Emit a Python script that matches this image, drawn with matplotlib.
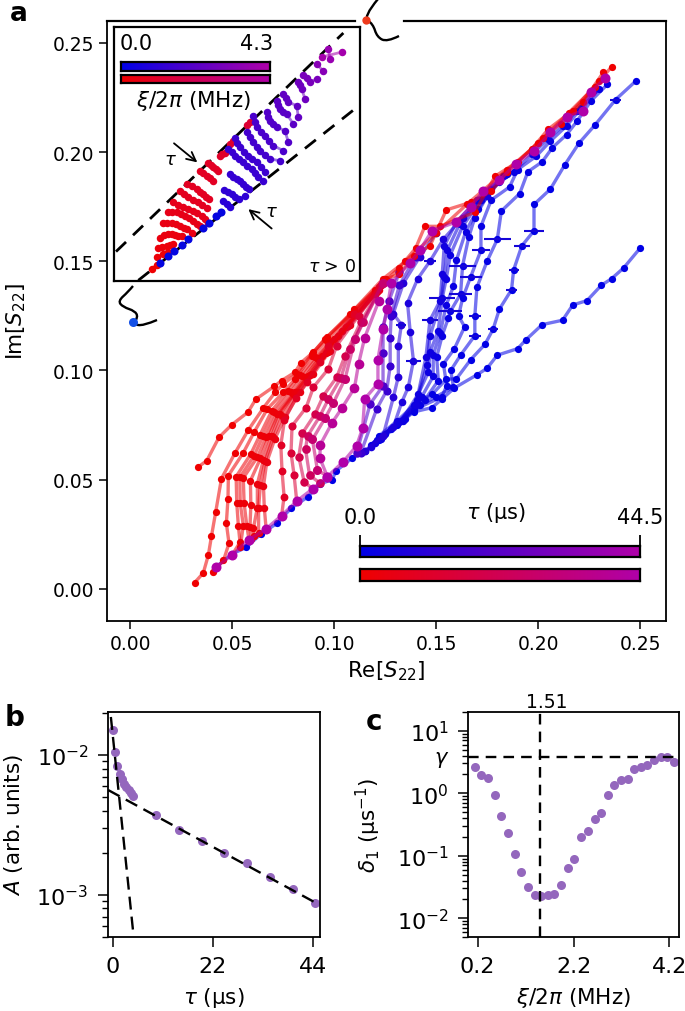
import numpy as np
import matplotlib
matplotlib.use('Agg')
import matplotlib.pyplot as plt
from matplotlib.colors import LinearSegmentedColormap
from matplotlib.lines import Line2D
from matplotlib.patches import PathPatch
from matplotlib.path import Path
from matplotlib.ticker import LogLocator, NullFormatter

W, H = 685, 1012

# panel a, curves of fixed tau, (Re, Im) in units of 1e-3
red_0 = [(33.5,55.9),(37.6,58.7),(43.6,69.4),(49.8,75.1),(57.8,80.9),(61.6,86.8),(70.8,92.8),(74.3,95.4),(80.9,99.2),(83.7,103.5),(89.9,108.4),(96.4,115.2),(110,127),(125.5,142),(132,144),(139,152.5),(147,157),(155,173.5),(167,177),(177,182),(185,191),(197,201.5),(205,210.5),(217,219),(230,232.5),(236,239)]
red_1 = [(31.7,2.9),(35.9,7.3),(38.4,15.6),(39.9,24.1),(42,35.3),(44.8,50.5),(51.5,62.3),(58,72.8),(65.4,82.9),(71.1,90),(75.2,93.9),(81.7,98.4),(89.1,107.6),(95.6,114.5),(108,126),(120,137),(125.5,141),(132,147),(140,156),(144.5,166),(152,166),(169,172.5),(179,189),(190,195.5),(202.5,206.5),(211,213),(222,223),(232,236.5)]
red_2 = [(40.8,7.8),(45.8,13),(48.5,20.9),(47.2,30.1),(48,41.2),(48.2,51.9),(55.5,62.3),(60.8,71.7),(67.3,82.4),(75.2,90),(80.9,96.2),(89.1,106.8),(96.4,113.7),(110,128),(124,142),(135,150),(150,163),(165,176),(185,192),(200,204),(215,218),(228,230)]
red_3 = [(50.1,15.6),(53.9,21.4),(53.1,28.7),(52.3,39.4),(52,51.4),(59.2,61.8),(63.7,70.5),(69.5,81.6),(77.6,90.8),(83.3,97.7),(90.7,106.1),(98,113),(110,126),(120,136)]
red_3b = [(54,19),(55.5,29),(54,39.4),(53.8,51),(60.8,61),(65.2,70),(70.7,80.8),(78.8,90),(84.5,97.3),(91.5,105.7),(100,114.5),(120,135.5)]
red_4 = [(58.3,22.6),(57.2,29),(55.9,39.4),(55.5,50.8),(62.4,60.3),(66.7,69.5),(71.9,80.1),(80.1,89.3),(85.8,96.9),(92.3,105.3),(102,116),(120,135)]
red_4b = [(59.5,23),(58.8,28.5),(59.2,38.3),(59,49.5),(63.9,59.7),(68,69.8),(72.7,80.1),(80.5,89.6),(87,97.5),(94,106.5),(104,118),(120,135)]
red_5 = [(60.8,24.1),(60.5,27.9),(62.4,37.2),(62.4,48.1),(65.4,59.1),(69.5,70.2),(73.5,80.1),(81,90),(88,98),(96,108),(106,120),(120,135)]
red_5b = [(63,25.5),(63,37.2),(63.9,47.6),(66.2,58.5),(70.2,69.5),(74.7,79.3),(82,90),(89,98.2),(97,108.5),(107,120.5),(121,136)]
red_6 = [(66.7,27.5),(65.8,37.1),(65.4,47),(67,58),(71,68.7),(76,78.6),(83.3,90),(89.9,98.4),(98,109),(108,121),(122,137)]
red_7 = [(74.3,33.6),(75.5,42.3),(74.5,53.9),(73.9,65.8),(75.7,77.4),(81.2,87.3),(86.6,94.6),(93.1,103.8),(97.2,111.4),(110,126),(122,138)]
red_8 = [(81.7,40.2),(80.4,52.1),(78.9,62.3),(79.4,74.6),(86.3,83),(89.9,92.4),(97.2,100.7),(101.3,111.4),(112,125),(123,139)]
red_9 = [(89.5,45.8),(85.3,49.1),(82.7,60.6),(84.5,71.3),(90.7,80.1),(94.8,88.5),(101.3,96.9),(105.4,106.8),(113,122),(124,140)]
red_9b = [(93,48.5),(88,52),(86,64),(87,70),(93,79),(97.2,86.8),(103.3,96.5),(107.8,110),(114,122),(124,140)]
red_10 = [(96.7,51.4),(91.8,54.6),(89.4,68.4),(95.6,78.2),(99.7,85.2),(105.4,96.2),(110.3,114.5),(124,140)]
red_11 = [(96.7,51.4),(93,60),(93.3,66.1),(99,76),(104,83),(110,92),(112,103),(115,115),(122,132)]
final = [(42,9.9),(50.1,15.6),(58.3,22.6),(66.7,27.5),(74.3,33.6),(81.7,40.2),(89.5,45.8),(96.7,51.4),(104.6,58.3),(111.1,65.6),(114,73.7),(115,87),(121.5,94),(121.5,105),(124,119),(126,128),(128,140),(137,149),(142,155),(148,164),(160,168),(167,175),(173,182),(181,187),(189,194.5),(198,200.5),(206,209),(214,216),(222,219),(226,227.5),(233,234)]
red_tau = [0, 0.5, 1, 1.5, 1.75, 2, 2.5, 3, 3.5, 4.5, 9.5, 14.5, 19.5, 24.5, 29.5, 39.5, 44.5]

blue_0 = [(42,10),(50,16),(57,19),(64,25),(72,30),(79,37),(87,42),(93,48),(99,50),(101,54),(109,60),(115,63),(122,68),(131,75),(139,81),(148,83),(153,87),(159,92),(170,98),(175,101),(180,107),(190,110),(194,114),(202,121),(212,123),(217,130),(224,132),(231,139),(236,142),(242,147),(250,156)]
blue_1 = [(122,70),(131,77),(139,84),(148,89),(155,96),(160,96.2),(167,105),(174,112),(178,119),(181,128),(187,137),(188,146),(192,157),(198,164),(198,176),(206,183),(213,194),(220,204),(228,212.5),(238,224),(248,232.6)]
blue_2 = [(118,66),(131,76),(142,84),(150,88),(158.5,92.4),(157.2,100),(162,107),(169,116),(169,125),(170,138),(175,150),(180,160),(182,173),(191,181),(195,191),(202,195.5),(207,202),(214,208),(219,214),(226,223.5),(234,231)]
blue_3 = [(128,73),(139,82),(152.8,87.8),(155.2,93.1),(153.6,103),(159,110),(164,120),(161,125),(163,133),(167,143),(172,155),(172,166),(177,178),(186,184),(190,192),(199,198),(206,205),(214,212),(221,220),(230,229)]
blue_4 = [(125,71),(135,78),(144.6,86.7),(151.1,95.4),(150.3,106.1),(153,116),(156,124),(157,127),(162,135),(163,148),(166,161),(169,170),(177,183),(188,191),(197,199),(205,206),(212,212),(219,219),(227,228)]
blue_4b = [(123,68.5),(134,77),(143,88),(148.6,97.3),(148.6,107.2),(152,117),(155,130),(158.5,138.5),(160,150.5),(164.5,163.5),(170.5,174),(181,186.5)]
blue_5 = [(122,69),(133,77),(141.3,89.3),(146.2,99.2),(147,108.4),(151,118),(153,133),(155,142),(157,153),(163,166),(172,178),(185,190)]
blue_5b = [(121,68),(132,76.5),(140.6,86.5),(145.6,102.6),(147,115.7),(152.5,132.5),(154,143),(155.5,155),(161.5,167),(171,178),(184,189.5)]
blue_6 = [(120,67),(131,76),(140,84),(145,106),(147,123),(152,132),(153,144),(154,157),(160,168),(170,178),(183,189)]
blue_7 = [(118,65),(129,74),(133.2,85.5),(136.4,92.4),(138.9,104.5),(137.3,117.8),(136,131),(141,142),(147,150),(153.5,160),(163,170),(175,180)]
blue_8 = [(115,63),(124,70),(129.1,87.8),(131.5,97.2),(131.5,111.4),(133,121),(129,126),(134,140),(142,152),(150,163)]
blue_9 = [(113,62),(120.9,82.4),(125.8,90.8),(127.5,102),(127.5,114.9),(128,125),(132,139),(140,152)]
blue_10 = [(111,62),(117.7,84.7),(124,93),(124,108),(124,120),(127,132),(132,145)]
blue_tau = [0, 0.5, 1, 1.5, 2, 2.5, 3, 3.5, 4.5, 6.5, 9.5, 14.5, 19.5]

# horizontal error bars on the blue points
err_x = [238, 198, 192, 188, 187, 178, 169, 169, 180, 172, 163, 167, 162, 153, 157, 147, 138.9, 147, 133]
err_y = [224, 164, 157, 146, 137, 119, 125, 116, 160, 155, 148, 143, 135, 133, 127, 123, 104.5, 150, 121]
err_w = [2.6, 4.7, 4, 2.5, 2.5, 2.5, 3, 3, 6.5, 4.6, 6.5, 5.5, 5.7, 6.5, 5.9, 3.9, 3.5, 3, 2.5]

# inset, curves of fixed xi, arbitrary units (no ticks on this axes)
inset_rows_red = [
    [(113,37),(128,48)],
    [(128,73),(148,80),(163,87)],
    [(133,100),(145,103),(158,105),(168,108),(178,110)],
    [(138,130),(150,137),(163,140),(173,140),(183,137),(193,136),(203,135)],
    [(148,173),(160,175),(173,175),(186,171),(198,165),(209,160),(220,155),(233,145)],
    [(163,205),(175,206),(188,205),(200,200),(213,195),(225,188),(238,180),(248,172),(258,165)],
    [(178,235),(193,228),(208,220),(223,215),(238,210),(250,203),(263,195),(273,185),(283,175)],
    [(198,270),(210,260),(223,250),(238,242),(253,235),(265,226),(278,217)],
    [(220,290),(234,283),(248,275),(258,267),(268,260),(277,252),(286,245)],
    [(258,330),(268,322),(278,315),(288,307),(298,300)],
    [(283,353),(290,346),(298,340),(305,334),(313,328)],
    [(318,375),(325,379),(333,383)],
    [(348,410),(358,418)],
    [(398,467),(408,475)],
]
inset_rows_blue = [
    [(328,238),(338,229),(348,220)],
    [(330,273),(341,267),(353,260),(364,252),(376,245),(393,255)],
    [(348,320),(358,312),(368,305),(378,298),(388,290),(396,282),(405,275)],
    [(343,395),(353,385),(363,375),(375,365),(388,355),(400,345),(413,335),(423,322),(433,310),(448,300)],
    [(363,427),(370,413),(378,400),(390,387),(403,375),(415,365),(428,355),(440,340),(453,325)],
    [(398,445),(408,430),(418,415),(428,402),(438,390),(453,377),(468,365),(498,360)],
    [(416,495),(422,477),(428,460),(440,447),(453,435),(465,420),(478,405),(508,390)],
    [(458,505),(463,492),(468,480),(478,470),(488,460),(513,450),(523,415)],
    [(488,540),(493,527),(498,515),(508,507),(518,500),(538,470)],
    [(508,560),(515,547),(523,535),(548,525),(553,490)],
    [(553,595),(558,585),(563,575),(573,545)],
    [(568,617),(578,606),(588,595),(608,605)],
    [(608,650),(628,627)],
    [(643,695),(648,663)],
    [(623,670),(683,685)],
]
inset_diag = [(138,55),(163,75),(180,90),(203,107),(223,125),(266,160),(285,173),(305,193),(320,205)]
inset_xi_red = [0.1, 0.2, 0.3, 0.4, 0.5, 0.6, 0.7, 0.8, 0.85, 0.9, 0.95, 1.05, 1.15, 1.3]
inset_xi_blue = [1.0, 1.15, 1.3, 1.4, 1.5, 1.65, 1.8, 2.0, 2.2, 2.4, 2.7, 2.95, 3.3, 3.7, 4.0]

# panel b
tau_b = [0, 0.5, 1, 1.5, 2, 2.5, 3, 3.5, 4, 4.5, 9.5, 14.5, 19.5, 24.5, 29.5, 34.5, 39.5, 44.5]
amp_b = [0.0152, 0.01045, 0.0083, 0.0073, 0.00674, 0.00621, 0.00588, 0.00562, 0.00535, 0.00512, 0.00373, 0.00293, 0.00242, 0.002, 0.00168, 0.00135, 0.0011, 0.00088]
fit_slow_t = [-1, 44.5]
fit_slow_a = [0.00562, 0.00088]
fit_fast_t = [-0.4, 4.5]
fit_fast_a = [0.0187, 0.00054]

# panel c
xi_c = [0.14, 0.28, 0.42, 0.56, 0.69, 0.83, 0.97, 1.11, 1.25, 1.39, 1.52, 1.66, 1.80, 1.94, 2.08, 2.22, 2.36, 2.50, 2.64, 2.77, 2.91, 3.05, 3.19, 3.33, 3.47, 3.61, 3.74, 3.88, 4.02, 4.16, 4.30]
delta_c = [2.64, 1.99, 1.76, 0.95, 0.43, 0.229, 0.106, 0.0545, 0.0313, 0.0236, 0.0228, 0.0239, 0.0245, 0.0346, 0.0647, 0.089, 0.2, 0.25, 0.388, 0.49, 0.95, 1.36, 1.63, 1.70, 2.45, 2.64, 2.84, 3.41, 3.77, 3.77, 3.13]
gamma = 3.84
xi_opt = 1.51

blue_map = LinearSegmentedColormap.from_list('bm', ['#0000e6', '#b000a8'])
red_map = LinearSegmentedColormap.from_list('rm', ['#f00000', '#b000a8'])


def box(l, t, r, b):
    # pixel box of the reference -> axes rectangle
    return [l / W, 1 - b / H, (r - l) / W, (b - t) / H]


def squiggle(pts):
    # smooth line through pixel positions, drawn on the figure
    p = [(x / W, 1 - y / H) for x, y in pts]
    verts, codes = [p[0]], [Path.MOVETO]
    for i in range(1, len(p) - 1):
        end = p[i + 1] if i == len(p) - 2 else ((p[i][0] + p[i + 1][0]) / 2, (p[i][1] + p[i + 1][1]) / 2)
        verts += [p[i], end]
        codes += [Path.CURVE3, Path.CURVE3]
    fig.add_artist(PathPatch(Path(verts, codes), fill=False, lw=1.7, ec='k', transform=fig.transFigure))


def draw_curve(ax, pts, color, ms):
    arr = np.array(pts) / 1000
    ax.plot(arr[:, 0], arr[:, 1], '-', color=color, alpha=0.55, lw=2.4)
    ax.plot(arr[:, 0], arr[:, 1], 'o', color=color, ms=ms, mew=0)


def grad_bar(rect, cmap):
    bar = fig.add_axes(rect)
    bar.imshow(np.linspace(0, 1, 256)[None, :], cmap=cmap, aspect='auto', extent=(0, 1, 0, 1))
    bar.set_xticks([])
    bar.set_yticks([])
    for s in bar.spines.values():
        s.set_linewidth(1.6)
    return bar


plt.rcParams['font.size'] = 13.5
plt.rcParams['mathtext.fontset'] = 'dejavusans'
plt.rcParams['axes.linewidth'] = 1.3
fig = plt.figure(figsize=(W / 100, H / 100), dpi=100)

# ---- panel a ----
ax = fig.add_axes(box(107, 22, 666, 622))
blue_curves = [blue_0, blue_1, blue_2, blue_3, blue_4, blue_4b, blue_5, blue_5b, blue_6, blue_7, blue_8, blue_9, blue_10]
red_curves = [red_0, red_1, red_2, red_3, red_3b, red_4, red_4b, red_5, red_5b, red_6, red_7, red_8, red_9, red_9b, red_10, red_11, final]
for pts, t in zip(blue_curves, blue_tau):
    draw_curve(ax, pts, blue_map(t / 44.5), 5.2 + 2 * t / 44.5)
ax.errorbar(np.array(err_x) / 1000, np.array(err_y) / 1000, xerr=np.array(err_w) / 1000, fmt='none', ecolor='#1505d8', elinewidth=1.5)
for pts, t in zip(red_curves, red_tau):
    draw_curve(ax, pts, red_map(t / 44.5), 5.2 + 2 * t / 44.5)

ax.set_xlim(-0.0113, 0.2627)
ax.set_ylim(-0.0147, 0.26)
ax.set_xticks([0, 0.05, 0.1, 0.15, 0.2, 0.25])
ax.set_yticks([0, 0.05, 0.1, 0.15, 0.2, 0.25])
ax.xaxis.set_major_formatter('{x:.2f}')
ax.yaxis.set_major_formatter('{x:.2f}')
ax.tick_params(axis='both', length=5.5, width=1.1)
ax.set_xlabel('Re[$S_{22}$]', fontsize=15.5, labelpad=4)
ax.set_ylabel('Im[$S_{22}$]', fontsize=15.5, labelpad=18)
ax.spines['top'].set_visible(False)
ax.plot([0, 0.444], [1, 1], 'k', lw=1.6, transform=ax.transAxes, clip_on=False)
ax.plot([0.531, 1], [1, 1], 'k', lw=1.6, transform=ax.transAxes, clip_on=False)

# tau colour bars
bar = grad_bar(box(360, 547, 640, 558), blue_map)
bar.set_xticks([0, 1], ['0.0', '44.5'], fontsize=15)
bar.xaxis.tick_top()
bar.tick_params(axis='x', length=8, width=1.3, pad=6)
grad_bar(box(360, 570, 640, 582), red_map)
fig.text(496 / W, 1 - 513 / H, r'$\tau$ (µs)', ha='center', va='center', fontsize=15)

# ---- inset ----
ins = fig.add_axes(box(114, 28, 360, 282))
ins.set_xlim(0, 738)
ins.set_ylim(0, 760)
ins.set_xticks([])
ins.set_yticks([])
for s in ins.spines.values():
    s.set_linewidth(1.6)
ins.plot([6, 688], [88, 742], color='k', lw=2, dashes=(5, 3.5))
ins.plot([73, 738], [2, 527], color='k', lw=2, dashes=(5, 3.5))
for row, xi in zip(inset_rows_red, inset_xi_red):
    arr = np.array(row)
    c = red_map(xi / 4.3)
    ins.plot(arr[:, 0], arr[:, 1], '-', color=c, alpha=0.55, lw=2)
    ins.plot(arr[:, 0], arr[:, 1], 'o', color=c, ms=5.4, mew=0)
diag = np.array(inset_diag)
ins.plot(diag[:, 0], diag[:, 1], 'o', color='#0505e0', ms=5.8, mew=0)
for row, xi in zip(inset_rows_blue, inset_xi_blue):
    arr = np.array(row)
    c = blue_map(xi / 4.3)
    ins.plot(arr[:, 0], arr[:, 1], '-', color=c, alpha=0.55, lw=2)
    ins.plot(arr[:, 0], arr[:, 1], 'o', color=c, ms=5.4, mew=0)
ins.annotate('', xy=(250, 355), xytext=(180, 412), arrowprops=dict(arrowstyle='->', lw=1.3, color='k', shrinkA=0, shrinkB=0, mutation_scale=16))
ins.annotate('', xy=(403, 215), xytext=(473, 157), arrowprops=dict(arrowstyle='->', lw=1.3, color='k', shrinkA=0, shrinkB=0, mutation_scale=16))
ins.text(168, 365, r'$\tau$', ha='center', va='center', fontsize=13)
ins.text(473, 208, r'$\tau$', ha='center', va='center', fontsize=13)
ins.text(726, 45, r'$\tau$ > 0', ha='right', va='center', fontsize=12.5)
ins.text(68, 713, '0.0', ha='center', va='center', fontsize=15)
ins.text(428, 713, '4.3', ha='center', va='center', fontsize=15)
ins.text(238, 542, r'$\xi/2\pi$ (MHz)', ha='center', va='center', fontsize=15.5)
grad_bar(box(121, 63, 270, 72), blue_map)
grad_bar(box(121, 76, 270, 84), red_map)

# squiggles with the end dots
squiggle([(378, 0), (363, 18), (373, 25), (377, 38), (387, 43), (399, 37)])
squiggle([(133, 287), (128, 293), (118, 302), (123, 308), (135, 312), (138, 318), (133, 325), (143, 327), (157, 321)])
fig.add_artist(Line2D([366 / W], [1 - 21 / H], marker='o', ms=6, color='#ee3a1c', mew=0, transform=fig.transFigure))
fig.add_artist(Line2D([133 / W], [1 - 323 / H], marker='o', ms=6.5, color='#1450e6', mew=0, transform=fig.transFigure))

# ---- panel b ----
axb = fig.add_axes(box(108, 713, 320, 938))
axb.semilogy(tau_b, amp_b, 'o', color='#9467bd', ms=6.5, mew=0)
axb.semilogy(fit_slow_t, fit_slow_a, 'k', lw=1.7, dashes=(5.5, 3))
axb.semilogy(fit_fast_t, fit_fast_a, 'k', lw=1.7, dashes=(5.5, 3))
axb.set_xlim(-1.03, 45.5)
axb.set_ylim(5e-4, 0.0203)
axb.set_xticks([0, 22, 44])
axb.yaxis.set_minor_locator(LogLocator(base=10, subs=np.arange(2, 10) * 0.1, numticks=20))
axb.yaxis.set_minor_formatter(NullFormatter())
axb.tick_params(axis='both', which='major', labelsize=16, length=7, width=1.1, pad=7)
axb.tick_params(axis='y', which='minor', length=4.5, width=1)
axb.set_xlabel(r'$\tau$ (µs)', fontsize=15.5, labelpad=6)
axb.set_ylabel(r'$A$ (arb. units)', fontsize=15.5, labelpad=8)

# ---- panel c ----
axc = fig.add_axes(box(468, 713, 679, 938))
axc.semilogy(xi_c, delta_c, 'o', color='#9467bd', ms=6.5, mew=0)
axc.axhline(gamma, color='k', lw=1.7, dashes=(4.5, 3))
axc.axvline(xi_opt, color='k', lw=1.7, dashes=(4.5, 3))
axc.set_xlim(0, 4.4)
axc.set_ylim(0.005, 20)
axc.set_xticks([0.2, 2.2, 4.2])
axc.xaxis.set_major_formatter('{x:.1f}')
axc.set_yticks([0.01, 0.1, 1, 10])
axc.yaxis.set_minor_locator(LogLocator(base=10, subs=np.arange(2, 10) * 0.1, numticks=20))
axc.yaxis.set_minor_formatter(NullFormatter())
axc.tick_params(axis='both', which='major', labelsize=16, length=7, width=1.1, pad=7)
axc.tick_params(axis='y', which='minor', length=4.5, width=1)
axc.set_xlabel(r'$\xi/2\pi$ (MHz)', fontsize=15.5, labelpad=6)
axc.set_ylabel(r'$\delta_1$ (µs$^{-1}$)', fontsize=15.5, labelpad=10)
axc.text(-0.55, gamma * 0.93, r'$\gamma$', ha='center', va='center', fontsize=15)
axc.text(xi_opt + 0.13, 21, str(xi_opt), ha='center', va='bottom', fontsize=13.5)

for s, xp, yp, fs in [('a', 10, 21, 19), ('b', 5, 726, 20), ('c', 366, 730, 20)]:
    fig.text(xp / W, 1 - yp / H, s, fontweight='bold', fontsize=fs, va='baseline')

fig.savefig('out.png', dpi=100)
